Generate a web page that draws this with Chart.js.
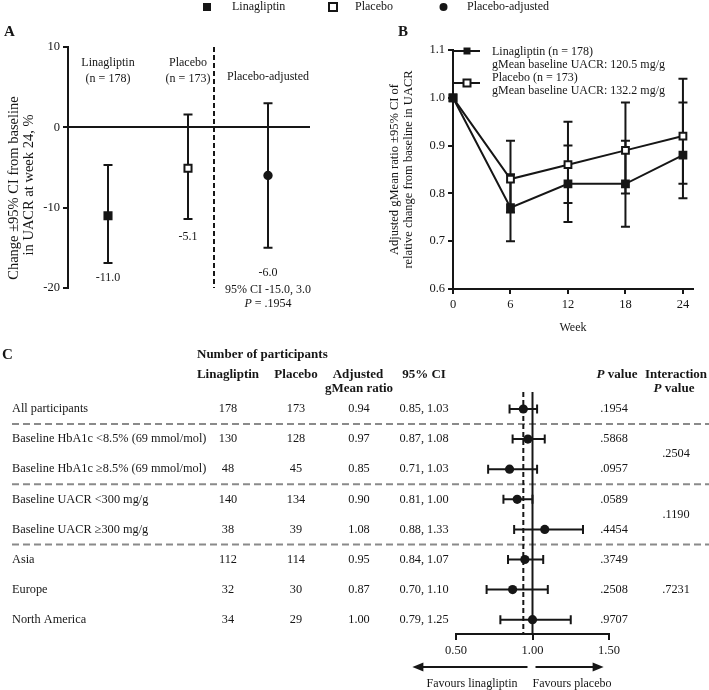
<!DOCTYPE html>
<html>
<head>
<meta charset="utf-8">
<script src="https://cdn.jsdelivr.net/npm/chart.js@4.4.1/dist/chart.umd.min.js"></script>
<style>
  body { margin: 0; background: #fff; }
  #wrap { position: relative; width: 709px; height: 690px; }
  #wrap canvas { position: absolute; left: 0; top: 0; }
</style>
</head>
<body>
<div id="wrap">
  <canvas id="chartA" width="709" height="690"></canvas>
  <canvas id="chartB" width="709" height="690"></canvas>
  <canvas id="chartC" width="709" height="690"></canvas>
</div>
<script>
const SERIF = '"Liberation Serif", "Times New Roman", Times, serif';
const INK = '#161616';

// Panel A - change in UACR at week 24
const groupsA = ['Linagliptin', 'Placebo', 'Placebo-adjusted'];
const groupSizesA = ['(n = 178)', '(n = 173)', ''];
const changeA = [-11.0, -5.1, -6.0];
const lowA = [-16.9, -11.4, -15.0];
const highA = [-4.7, 1.6, 3.0];
const pAdjustedA = '.1954';
const ticksA = [-20, -10, 0, 10];

// Panel B - gMean ratio over time
const weeksB = [0, 6, 12, 18, 24];
const linaB = [1.00, 0.77, 0.82, 0.82, 0.88];
const linaLowB = [null, 0.70, 0.74, 0.73, 0.79];
const linaHighB = [null, 0.84, 0.90, 0.91, 0.99];
const placB = [1.00, 0.83, 0.86, 0.89, 0.92];
const placLowB = [null, 0.76, 0.78, 0.80, 0.82];
const placHighB = [null, 0.91, 0.95, 0.99, 1.04];
const legendB = [
  ['Linagliptin (n = 178)', 'gMean baseline UACR: 120.5 mg/g'],
  ['Placebo (n = 173)', 'gMean baseline UACR: 132.2 mg/g']
];
const yTicksB = [0.6, 0.7, 0.8, 0.9, 1.0, 1.1];
const xTicksB = [0, 6, 12, 18, 24];

// Panel C - subgroups
const subgroups = [
  'All participants',
  'Baseline HbA1c <8.5% (69 mmol/mol)',
  'Baseline HbA1c \u22658.5% (69 mmol/mol)',
  'Baseline UACR <300 mg/g',
  'Baseline UACR \u2265300 mg/g',
  'Asia',
  'Europe',
  'North America'
];
const nLinaC = [178, 130, 48, 140, 38, 112, 32, 34];
const nPlacC = [173, 128, 45, 134, 39, 114, 30, 29];
const ratioC = [0.94, 0.97, 0.85, 0.90, 1.08, 0.95, 0.87, 1.00];
const lowC = [0.85, 0.87, 0.71, 0.81, 0.88, 0.84, 0.70, 0.79];
const highC = [1.03, 1.08, 1.03, 1.00, 1.33, 1.07, 1.10, 1.25];
const pC = ['.1954', '.5868', '.0957', '.0589', '.4454', '.3749', '.2508', '.9707'];
const interactionP = ['.2504', '.1190', '.7231'];
const interactionRow = [1.5, 3.5, 6];
const groupBreaks = [0.5, 2.5, 4.5];
const xTicksC = [0.5, 1.0, 1.5];

// --- drawing helpers ---
function rich(ctx, parts, x, y, align, size, bold) {
  ctx.save();
  ctx.textBaseline = 'middle';
  ctx.textAlign = 'left';
  ctx.fillStyle = INK;
  const fonts = parts.map(p => `${p.i ? 'italic ' : ''}${bold ? 'bold ' : ''}${size}px ${SERIF}`);
  const widths = parts.map((p, k) => { ctx.font = fonts[k]; return ctx.measureText(p.t).width; });
  const total = widths.reduce((a, b) => a + b, 0);
  let cx = align === 'center' ? x - total / 2 : align === 'right' ? x - total : x;
  parts.forEach((p, k) => { ctx.font = fonts[k]; ctx.fillText(p.t, cx, y); cx += widths[k]; });
  ctx.restore();
}
function label(ctx, t, x, y, o = {}) {
  rich(ctx, [{ t: String(t) }], x, y, o.align || 'left', o.size || 12, o.bold);
}
function vlabel(ctx, t, x, y, size) {
  ctx.save();
  ctx.translate(x, y);
  ctx.rotate(-Math.PI / 2);
  rich(ctx, [{ t }], 0, 0, 'center', size);
  ctx.restore();
}
function marker(ctx, style, x, y, s) {
  ctx.save();
  ctx.strokeStyle = INK; ctx.lineWidth = 2;
  ctx.fillStyle = style === 'open' ? '#fff' : INK;
  ctx.beginPath();
  if (style === 'circle') ctx.arc(x, y, s / 2, 0, Math.PI * 2);
  else ctx.rect(x - s / 2, y - s / 2, s, s);
  ctx.fill();
  if (style === 'open') ctx.stroke();
  ctx.restore();
}
function arrow(ctx, x0, x1, y) {
  const d = Math.sign(x1 - x0);
  ctx.save();
  ctx.strokeStyle = INK; ctx.fillStyle = INK; ctx.lineWidth = 2;
  ctx.beginPath(); ctx.moveTo(x0, y); ctx.lineTo(x1 - d * 8, y); ctx.stroke();
  ctx.beginPath(); ctx.moveTo(x1, y); ctx.lineTo(x1 - d * 11, y - 4.5); ctx.lineTo(x1 - d * 11, y + 4.5); ctx.closePath(); ctx.fill();
  ctx.restore();
}

const base = {
  responsive: false,
  animation: false,
  events: [],
  plugins: { legend: { display: false }, tooltip: { enabled: false } }
};
const tickFont = { family: SERIF, size: 12.5 };

// ---------------- Panel A ----------------
const panelA = {
  id: 'panelA',
  beforeDatasetsDraw(chart) {
    const { ctx, chartArea, scales: { x, y } } = chart;
    ctx.save();
    ctx.strokeStyle = INK; ctx.lineWidth = 2;
    changeA.forEach((v, i) => {
      const px = x.getPixelForValue(i + 1);
      const t = y.getPixelForValue(highA[i]);
      const b = y.getPixelForValue(lowA[i]);
      ctx.beginPath();
      ctx.moveTo(px, t); ctx.lineTo(px, b);
      ctx.moveTo(px - 4.5, t); ctx.lineTo(px + 4.5, t);
      ctx.moveTo(px - 4.5, b); ctx.lineTo(px + 4.5, b);
      ctx.stroke();
    });
    const dx = x.getPixelForValue(2.325);
    ctx.setLineDash([5, 3]);
    ctx.beginPath(); ctx.moveTo(dx, chartArea.top); ctx.lineTo(dx, chartArea.bottom); ctx.stroke();
    ctx.restore();
  },
  afterDraw(chart) {
    const { ctx, scales: { x, y } } = chart;
    // shared legend at top
    marker(ctx, 'filled', 207, 7, 8);
    label(ctx, groupsA[0], 232, 7);
    marker(ctx, 'open', 333, 7, 8);
    label(ctx, groupsA[1], 355, 7);
    marker(ctx, 'circle', 443.5, 7, 8);
    label(ctx, groupsA[2], 467, 7);

    label(ctx, 'A', 4, 32, { bold: true, size: 15 });
    vlabel(ctx, 'Change \u00b195% CI from baseline', 14, 188, 14.5);
    vlabel(ctx, 'in UACR at week 24, %', 29, 185, 14.5);

    const px = changeA.map((v, i) => x.getPixelForValue(i + 1));
    label(ctx, groupsA[0], px[0], 63, { align: 'center' });
    label(ctx, groupSizesA[0], px[0], 79, { align: 'center' });
    label(ctx, groupsA[1], px[1], 63, { align: 'center' });
    label(ctx, groupSizesA[1], px[1], 79, { align: 'center' });
    label(ctx, groupsA[2], px[2], 77, { align: 'center' });

    const gap = [15, 18, 25];
    changeA.forEach((v, i) => {
      label(ctx, v.toFixed(1), px[i], y.getPixelForValue(lowA[i]) + gap[i], { align: 'center' });
    });
    const ya = y.getPixelForValue(lowA[2]) + gap[2];
    label(ctx, `95% CI ${lowA[2].toFixed(1)}, ${highA[2].toFixed(1)}`, px[2], ya + 17, { align: 'center' });
    rich(ctx, [{ t: 'P', i: true }, { t: ' = ' + pAdjustedA }], px[2], ya + 31, 'center', 12);
  }
};

new Chart(document.getElementById('chartA'), {
  type: 'scatter',
  data: {
    datasets: [{
      data: changeA.map((v, i) => ({ x: i + 1, y: v })),
      pointStyle: ['rect', 'rect', 'circle'],
      pointRadius: [5, 5, 3.7],
      backgroundColor: [INK, '#fff', INK],
      borderColor: INK,
      borderWidth: 2,
      clip: false
    }]
  },
  options: {
    ...base,
    layout: { padding: { left: 0, top: 47, right: 399, bottom: 402 } },
    scales: {
      x: { type: 'linear', display: false, min: 0.5, max: 3.525 },
      y: {
        min: -20, max: 10,
        afterFit: s => { s.width = 68; },
        afterBuildTicks: s => { s.ticks = ticksA.map(v => ({ value: v })); },
        ticks: { color: INK, font: tickFont, padding: 3 },
        grid: {
          color: c => (c.tick && c.tick.value === 0 ? INK : 'rgba(0,0,0,0)'),
          lineWidth: 2, tickColor: INK, tickWidth: 2, tickLength: 5
        },
        border: { color: INK, width: 2 }
      }
    }
  },
  plugins: [panelA]
});

// ---------------- Panel B ----------------
const panelB = {
  id: 'panelB',
  beforeDatasetsDraw(chart) {
    const { ctx, scales: { x, y } } = chart;
    ctx.save();
    ctx.strokeStyle = INK; ctx.lineWidth = 2;
    [[linaLowB, linaHighB], [placLowB, placHighB]].forEach(([lo, hi]) => {
      weeksB.forEach((w, i) => {
        if (lo[i] == null) return;
        const px = x.getPixelForValue(w);
        const t = y.getPixelForValue(hi[i]);
        const b = y.getPixelForValue(lo[i]);
        ctx.beginPath();
        ctx.moveTo(px, t); ctx.lineTo(px, b);
        ctx.moveTo(px - 4.5, t); ctx.lineTo(px + 4.5, t);
        ctx.moveTo(px - 4.5, b); ctx.lineTo(px + 4.5, b);
        ctx.stroke();
      });
    });
    ctx.restore();
  },
  afterDraw(chart) {
    const { ctx, chartArea } = chart;
    label(ctx, 'B', 398, 32, { bold: true, size: 15 });
    const cy = (chartArea.top + chartArea.bottom) / 2;
    vlabel(ctx, 'Adjusted gMean ratio \u00b195% CI of', 395, cy, 12.5);
    vlabel(ctx, 'relative change from baseline in UACR', 409, cy, 12.5);
    label(ctx, 'Week', (chartArea.left + chartArea.right) / 2, 328, { align: 'center' });

    // legend
    const rowsY = [51, 83];
    ['filled', 'open'].forEach((st, k) => {
      ctx.save();
      ctx.strokeStyle = INK; ctx.lineWidth = 2;
      ctx.beginPath(); ctx.moveTo(454, rowsY[k]); ctx.lineTo(480, rowsY[k]); ctx.stroke();
      ctx.restore();
      marker(ctx, st, 467, rowsY[k], 7);
    });
    label(ctx, legendB[0][0], 492, 52);
    label(ctx, legendB[0][1], 492, 65);
    label(ctx, legendB[1][0], 492, 78);
    label(ctx, legendB[1][1], 492, 91);
  }
};

const lineSet = (lbl, vals, fill) => ({
  label: lbl,
  data: weeksB.map((w, i) => ({ x: w, y: vals[i] })),
  borderColor: INK,
  borderWidth: 2,
  backgroundColor: fill,
  pointStyle: 'rect',
  pointRadius: 4.8,
  pointBorderWidth: 2,
  pointBorderColor: INK,
  pointBackgroundColor: fill,
  tension: 0,
  clip: false
});

new Chart(document.getElementById('chartB'), {
  type: 'line',
  data: { datasets: [lineSet('Linagliptin', linaB, INK), lineSet('Placebo', placB, '#fff')] },
  options: {
    ...base,
    layout: { padding: { left: 393, top: 50, right: 16, bottom: 361 } },
    scales: {
      x: {
        type: 'linear', min: 0, max: 25.05,
        afterFit: s => { s.height = 40; },
        afterBuildTicks: s => { s.ticks = xTicksB.map(v => ({ value: v })); },
        ticks: { color: INK, font: tickFont, padding: 3 },
        grid: { drawOnChartArea: false, color: INK, lineWidth: 2, tickLength: 5 },
        border: { color: INK, width: 2 }
      },
      y: {
        min: 0.6, max: 1.1,
        afterFit: s => { s.width = 60; },
        afterBuildTicks: s => { s.ticks = yTicksB.map(v => ({ value: v })); },
        ticks: { color: INK, font: tickFont, padding: 3, callback: v => v.toFixed(1) },
        grid: { drawOnChartArea: false, color: INK, lineWidth: 2, tickLength: 5 },
        border: { color: INK, width: 2 }
      }
    }
  },
  plugins: [panelB]
});

// ---------------- Panel C ----------------
const COL = { lina: 228, plac: 296, ratio: 359, ci: 424, p: 614, inter: 676 };
const panelC = {
  id: 'panelC',
  beforeDatasetsDraw(chart) {
    const { ctx, chartArea, scales: { x, y } } = chart;
    ctx.save();
    // group separators
    ctx.strokeStyle = '#8a8a8a'; ctx.lineWidth = 2; ctx.setLineDash([7, 4]);
    groupBreaks.forEach(b => {
      const py = y.getPixelForValue(b);
      ctx.beginPath(); ctx.moveTo(12, py); ctx.lineTo(709, py); ctx.stroke();
    });
    // reference lines
    ctx.strokeStyle = INK;
    ctx.setLineDash([5, 3]);
    const dx = x.getPixelForValue(ratioC[0]);
    ctx.beginPath(); ctx.moveTo(dx, chartArea.top); ctx.lineTo(dx, chartArea.bottom); ctx.stroke();
    ctx.setLineDash([]);
    const one = x.getPixelForValue(1);
    ctx.beginPath(); ctx.moveTo(one, chartArea.top); ctx.lineTo(one, chartArea.bottom); ctx.stroke();
    // CI whiskers
    ratioC.forEach((r, i) => {
      const py = y.getPixelForValue(i);
      const l = x.getPixelForValue(lowC[i]);
      const h = x.getPixelForValue(highC[i]);
      ctx.beginPath();
      ctx.moveTo(l, py); ctx.lineTo(h, py);
      ctx.moveTo(l, py - 4.5); ctx.lineTo(l, py + 4.5);
      ctx.moveTo(h, py - 4.5); ctx.lineTo(h, py + 4.5);
      ctx.stroke();
    });
    ctx.restore();
  },
  afterDraw(chart) {
    const { ctx, scales: { x, y } } = chart;
    label(ctx, 'C', 2, 355, { bold: true, size: 15 });
    const hb = { bold: true, size: 13 };
    label(ctx, 'Number of participants', 197, 355, hb);
    label(ctx, 'Linagliptin', COL.lina, 375, { ...hb, align: 'center' });
    label(ctx, 'Placebo', COL.plac, 375, { ...hb, align: 'center' });
    label(ctx, 'Adjusted', COL.ratio - 1, 375, { ...hb, align: 'center' });
    label(ctx, 'gMean ratio', COL.ratio, 389, { ...hb, align: 'center' });
    label(ctx, '95% CI', COL.ci, 375, { ...hb, align: 'center' });
    rich(ctx, [{ t: 'P', i: true }, { t: ' value' }], 617, 375, 'center', 13, true);
    label(ctx, 'Interaction', COL.inter, 375, { ...hb, align: 'center' });
    rich(ctx, [{ t: 'P', i: true }, { t: ' value' }], 674, 389, 'center', 13, true);

    const fs = 12.3;
    subgroups.forEach((s, i) => {
      const py = y.getPixelForValue(i);
      label(ctx, s, 12, py, { size: fs });
      label(ctx, nLinaC[i], COL.lina, py, { size: fs, align: 'center' });
      label(ctx, nPlacC[i], COL.plac, py, { size: fs, align: 'center' });
      label(ctx, ratioC[i].toFixed(2), COL.ratio, py, { size: fs, align: 'center' });
      label(ctx, `${lowC[i].toFixed(2)}, ${highC[i].toFixed(2)}`, COL.ci, py, { size: fs, align: 'center' });
      label(ctx, pC[i], COL.p, py, { size: fs, align: 'center' });
    });
    interactionP.forEach((p, k) => {
      label(ctx, p, COL.inter, y.getPixelForValue(interactionRow[k]), { size: fs, align: 'center' });
    });

    const one = x.getPixelForValue(1);
    arrow(ctx, one - 5, x.getPixelForValue(0.215), 667);
    arrow(ctx, one + 3, x.getPixelForValue(1.465), 667);
    label(ctx, 'Favours linagliptin', one - 15, 684, { align: 'right' });
    label(ctx, 'Favours placebo', one, 684);
  }
};

new Chart(document.getElementById('chartC'), {
  type: 'scatter',
  data: {
    datasets: [{
      data: ratioC.map((r, i) => ({ x: r, y: i })),
      pointRadius: 4.6,
      backgroundColor: INK,
      borderWidth: 0,
      clip: false
    }]
  },
  options: {
    ...base,
    layout: { padding: { left: 456, top: 392, right: 100, bottom: 6 } },
    scales: {
      x: {
        type: 'linear', min: 0.5, max: 1.5,
        afterFit: s => { s.height = 50; },
        afterBuildTicks: s => { s.ticks = xTicksC.map(v => ({ value: v })); },
        ticks: { color: INK, font: tickFont, padding: 3, callback: v => v.toFixed(2) },
        grid: { drawOnChartArea: false, color: INK, lineWidth: 2, tickLength: 6 },
        border: { color: INK, width: 2 }
      },
      y: { type: 'linear', display: false, reverse: true, min: -0.565, max: 7.475 }
    }
  },
  plugins: [panelC]
});
</script>
</body>
</html>
